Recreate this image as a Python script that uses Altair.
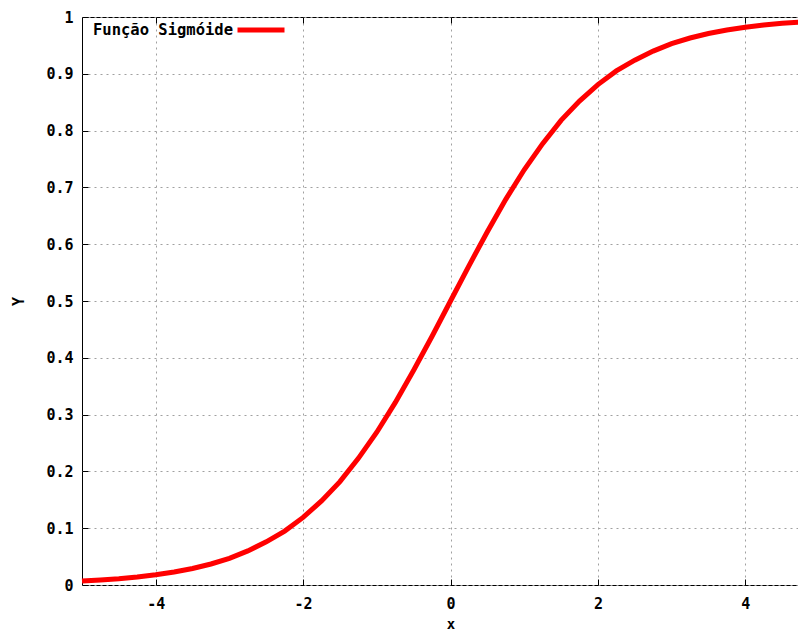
import altair as alt
import pandas as pd

# values
x_values = [-5.0, -4.75, -4.5, -4.25, -4.0, -3.75, -3.5, -3.25, -3.0, -2.75, -2.5,
            -2.25, -2.0, -1.75, -1.5, -1.25, -1.0, -0.75, -0.5, -0.25, 0.0,
            0.25, 0.5, 0.75, 1.0, 1.25, 1.5, 1.75, 2.0, 2.25, 2.5,
            2.75, 3.0, 3.25, 3.5, 3.75, 4.0, 4.25, 4.5, 4.75, 5.0]
y_values = [0.007, 0.009, 0.011, 0.014, 0.018, 0.023, 0.029, 0.037, 0.047, 0.060, 0.076,
            0.095, 0.119, 0.148, 0.182, 0.223, 0.269, 0.321, 0.378, 0.438, 0.500,
            0.562, 0.622, 0.679, 0.731, 0.777, 0.818, 0.852, 0.881, 0.905, 0.924,
            0.940, 0.953, 0.963, 0.971, 0.977, 0.982, 0.986, 0.989, 0.991, 0.993]
series_name = "Função Sigmóide"
x_ticks = [-4, -2, 0, 2, 4]
y_ticks = [0, 0.1, 0.2, 0.3, 0.4, 0.5, 0.6, 0.7, 0.8, 0.9, 1]

df = pd.DataFrame({"x": x_values, "y": y_values, "series": [series_name] * len(x_values)})

FONT = "DejaVu Sans Mono"
xscale = alt.Scale(domain=[-5, 5], nice=False, zero=False)
yscale = alt.Scale(domain=[0, 1], nice=False, zero=False)

line = alt.Chart(df).mark_line(strokeWidth=5).encode(
    x=alt.X("x:Q", scale=xscale,
            axis=alt.Axis(orient="bottom", values=x_ticks, offset=-6, tickSize=6,
                          domain=False, grid=True, labelPadding=11, title="x",
                          titleBaseline="top", titleY=38, titleFontSize=14,
                          labelExpr="'' + datum.value")),
    y=alt.Y("y:Q", scale=yscale,
            axis=alt.Axis(orient="left", values=y_ticks, offset=-6, tickSize=6,
                          domain=False, grid=True, labelPadding=9, title="Y",
                          titlePadding=19, labelExpr="'' + datum.value")),
    color=alt.Color("series:N",
                    scale=alt.Scale(domain=[series_name], range=["#ff0000"]),
                    legend=alt.Legend(title=None, orient="none", legendX=153, legendY=-13,
                                      padding=0, symbolType="stroke", symbolStrokeWidth=5,
                                      symbolSize=2209, labelAlign="right",
                                      labelOffset={"expr": "-54"},
                                      labelFont=FONT, labelFontSize=15.5, labelFontWeight="bold",
                                      labelColor="black", labelLimit=400)),
)

mirror = alt.Chart(df).mark_line(opacity=0).encode(
    x=alt.X("x:Q", scale=xscale,
            axis=alt.Axis(orient="top", values=x_ticks, offset=-6, tickSize=6,
                          labels=False, domain=False, grid=False, title=None)),
    y=alt.Y("y:Q", scale=yscale,
            axis=alt.Axis(orient="right", values=y_ticks, offset=-6, tickSize=6,
                          labels=False, domain=False, grid=False, title=None)),
)

chart = alt.layer(mirror, line).properties(
    width=737, height=568,
    padding={"left": 74, "top": 9, "right": -21, "bottom": 45},
    autosize=alt.AutoSizeParams(type="none"),
).configure_view(
    stroke="black", strokeWidth=1
).configure_axis(
    labelFont=FONT, labelFontSize=15, labelFontWeight="bold", labelColor="black",
    titleFont=FONT, titleFontSize=15, titleFontWeight="bold", titleColor="black",
    tickColor="black", tickWidth=1,
    gridColor="#a0a0a0", gridDash=[2, 4], gridWidth=1, gridOpacity=1,
)

chart.save("out.html", embed_options={"renderer": "svg", "actions": False})
